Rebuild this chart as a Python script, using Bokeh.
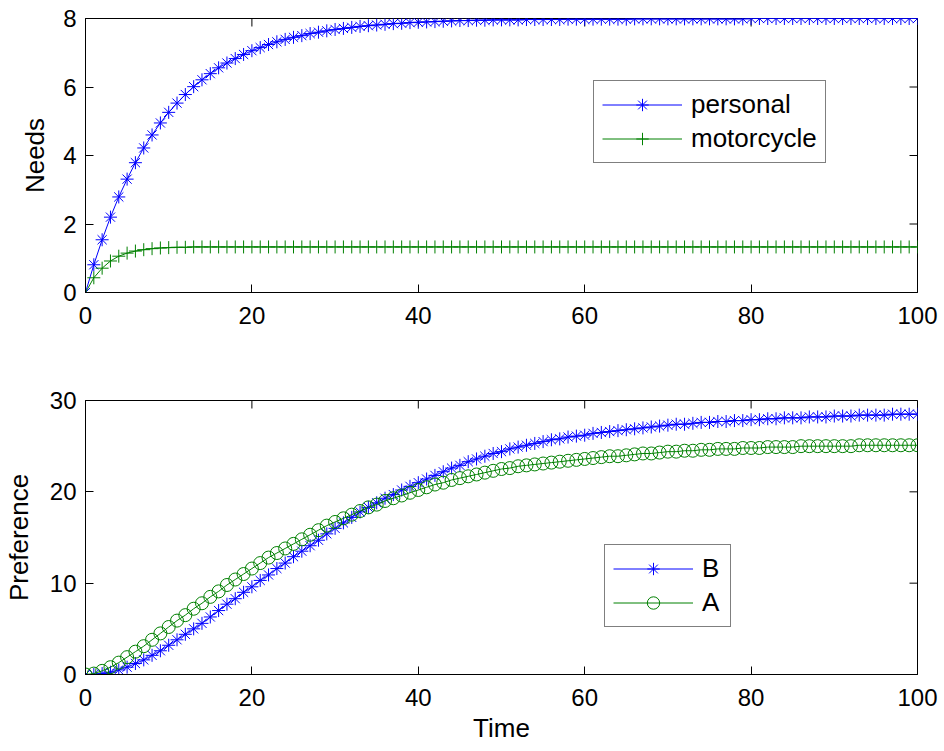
import math
from bokeh.plotting import figure
from bokeh.models import Range1d, FixedTicker, Legend, LegendItem
from bokeh.layouts import column
from bokeh.embed import file_html
from bokeh.resources import INLINE

time = list(range(0, 101))

personal = [0.00, 0.81, 1.54, 2.20, 2.79, 3.31, 3.79, 4.22, 4.60, 4.95,
            5.26, 5.53, 5.78, 6.01, 6.21, 6.39, 6.56, 6.70, 6.83, 6.95,
            7.06, 7.15, 7.24, 7.32, 7.39, 7.45, 7.50, 7.56, 7.60, 7.64,
            7.68, 7.71, 7.74, 7.77, 7.79, 7.81, 7.83, 7.85, 7.86, 7.88,
            7.89, 7.90, 7.91, 7.92, 7.93, 7.94, 7.94, 7.95, 7.95, 7.96,
            7.96, 7.96, 7.96, 7.97, 7.97, 7.97, 7.97, 7.97, 7.98, 7.98,
            7.98, 7.98, 7.98, 7.98, 7.98, 7.98, 7.99, 7.99, 7.99, 7.99,
            7.99, 7.99, 7.99, 7.99, 7.99, 7.99, 7.99, 7.99, 7.99, 7.99,
            8.00, 8.00, 8.00, 8.00, 8.00, 8.00, 8.00, 8.00, 8.00, 8.00,
            8.00, 8.00, 8.00, 8.00, 8.00, 8.00, 8.00, 8.00, 8.00, 8.00,
            8.00]

motorcycle = [0.00, 0.43, 0.71, 0.92, 1.06, 1.15, 1.21, 1.25, 1.28, 1.30,
              1.31, 1.32, 1.32, 1.33, 1.33, 1.33, 1.33, 1.33, 1.33, 1.33,
              1.33, 1.33, 1.33, 1.33, 1.33, 1.33, 1.33, 1.33, 1.33, 1.33,
              1.33, 1.33, 1.33, 1.33, 1.33, 1.33, 1.33, 1.33, 1.33, 1.33,
              1.33, 1.33, 1.33, 1.33, 1.33, 1.33, 1.33, 1.33, 1.33, 1.33,
              1.33, 1.33, 1.33, 1.33, 1.33, 1.33, 1.33, 1.33, 1.33, 1.33,
              1.33, 1.33, 1.33, 1.33, 1.33, 1.33, 1.33, 1.33, 1.33, 1.33,
              1.33, 1.33, 1.33, 1.33, 1.33, 1.33, 1.33, 1.33, 1.33, 1.33,
              1.33, 1.33, 1.33, 1.33, 1.33, 1.33, 1.33, 1.33, 1.33, 1.33,
              1.33, 1.33, 1.33, 1.33, 1.33, 1.33, 1.33, 1.33, 1.33, 1.33,
              1.33]

pref_b = [0.0, 0.0, 0.1, 0.25, 0.5, 0.8, 1.2, 1.6, 2.1, 2.6,
          3.2, 3.8, 4.4, 5.0, 5.6, 6.3, 7.0, 7.7, 8.3, 9.0,
          9.6, 10.3, 10.9, 11.6, 12.2, 12.9, 13.5, 14.1, 14.7, 15.4,
          16.0, 16.6, 17.2, 17.8, 18.3, 18.8, 19.3, 19.7, 20.2, 20.6,
          21.0, 21.4, 21.8, 22.2, 22.6, 22.9, 23.3, 23.6, 23.9, 24.2,
          24.4, 24.7, 24.9, 25.1, 25.3, 25.5, 25.7, 25.8, 26.0, 26.1,
          26.2, 26.4, 26.5, 26.6, 26.7, 26.8, 26.9, 27.0, 27.1, 27.2,
          27.3, 27.4, 27.4, 27.5, 27.6, 27.6, 27.7, 27.7, 27.8, 27.8,
          27.9, 27.9, 28.0, 28.0, 28.1, 28.1, 28.1, 28.2, 28.2, 28.2,
          28.3, 28.3, 28.3, 28.4, 28.4, 28.4, 28.4, 28.5, 28.5, 28.5,
          28.5]

pref_a = [0.0, 0.1, 0.4, 0.8, 1.3, 1.9, 2.5, 3.1, 3.8, 4.5,
          5.2, 5.9, 6.5, 7.2, 7.8, 8.5, 9.1, 9.8, 10.4, 11.0,
          11.6, 12.2, 12.8, 13.3, 13.8, 14.3, 14.8, 15.3, 15.8, 16.3,
          16.7, 17.1, 17.5, 17.9, 18.3, 18.6, 19.0, 19.3, 19.6, 19.9,
          20.2, 20.5, 20.8, 21.0, 21.3, 21.5, 21.7, 21.9, 22.1, 22.3,
          22.5, 22.6, 22.8, 22.9, 23.0, 23.1, 23.2, 23.3, 23.4, 23.5,
          23.6, 23.7, 23.8, 23.9, 23.9, 24.0, 24.1, 24.2, 24.2, 24.3,
          24.4, 24.4, 24.5, 24.5, 24.6, 24.6, 24.7, 24.7, 24.7, 24.8,
          24.8, 24.8, 24.9, 24.9, 24.9, 24.9, 25.0, 25.0, 25.0, 25.0,
          25.0, 25.0, 25.0, 25.1, 25.1, 25.1, 25.1, 25.1, 25.1, 25.1,
          25.1]

x_ticks = [0, 20, 40, 60, 80, 100]
needs_ticks = [0, 2, 4, 6, 8]
pref_ticks = [0, 10, 20, 30]

BLUE = "#0000FF"
GREEN = "#008000"
FONT = "Liberation Sans"
XMAX = 100


def style_axis(ax, ticks):
    ax.ticker = FixedTicker(ticks=ticks)
    ax.major_tick_in = 8
    ax.major_tick_out = 0
    ax.minor_tick_in = 0
    ax.minor_tick_out = 0
    ax.axis_line_color = "black"
    ax.major_tick_line_color = "black"
    ax.major_label_text_font = FONT
    ax.major_label_text_font_size = "24px"
    ax.major_label_text_color = "black"
    ax.axis_label_text_font = FONT
    ax.axis_label_text_font_size = "26px"
    ax.axis_label_text_font_style = "normal"
    ax.axis_label_text_color = "black"


def make_fig(ymax, yticks, ylabel, top_border, bottom_border, xlabel=None, ystandoff=14):
    p = figure(frame_width=832, frame_height=274,
               x_range=Range1d(0, XMAX), y_range=Range1d(0, ymax),
               output_backend="svg", toolbar_location=None,
               min_border_left=85, min_border_right=22,
               min_border_top=top_border, min_border_bottom=bottom_border,
               background_fill_color="white", border_fill_color="white",
               outline_line_color="black", outline_line_width=1)
    p.xgrid.visible = False
    p.ygrid.visible = False
    style_axis(p.xaxis[0], x_ticks)
    style_axis(p.yaxis[0], yticks)
    p.xaxis[0].major_label_standoff = 14
    p.yaxis[0].major_label_standoff = 9
    p.yaxis[0].axis_label = ylabel
    p.yaxis[0].axis_label_standoff = ystandoff
    if xlabel:
        p.xaxis[0].axis_label = xlabel
        p.xaxis[0].axis_label_standoff = 4
    # inward ticks on the top and right edges of the box (half of each dash is clipped by the frame)
    p.scatter(x_ticks, [ymax] * len(x_ticks), marker="dash", size=16,
              angle=math.pi / 2, line_color="black", line_width=1)
    p.scatter([XMAX] * len(yticks), yticks, marker="dash", size=16,
              line_color="black", line_width=1)
    return p


def make_legend(items, loc):
    lg = Legend(items=items, location=loc)
    lg.border_line_color = "black"
    lg.border_line_width = 1
    lg.background_fill_color = "white"
    lg.background_fill_alpha = 1
    lg.label_text_font = FONT
    lg.label_text_font_size = "26px"
    lg.label_text_color = "black"
    lg.glyph_width = 80
    lg.glyph_height = 31
    lg.spacing = 3
    lg.padding = 8
    lg.margin = 0
    lg.label_standoff = 9
    return lg


# ---- top: Needs ----
p1 = make_fig(8, needs_ticks, "Needs", 18, 96, ystandoff=10)
l1 = p1.line(time, personal, line_color=BLUE, line_width=1)
s1 = p1.scatter(time, personal, marker="asterisk", size=13, line_color=BLUE, line_width=1)
l2 = p1.line(time, motorcycle, line_color=GREEN, line_width=1)
s2 = p1.scatter(time, motorcycle, marker="cross", size=13, line_color=GREEN, line_width=1)
p1.add_layout(make_legend([
    LegendItem(label="personal", renderers=[l1, s1]),
    LegendItem(label="motorcycle", renderers=[l2, s2]),
], (508, 129)))

# ---- bottom: Preference ----
p2 = make_fig(30, pref_ticks, "Preference", 12, 72, xlabel="Time", ystandoff=13)
l3 = p2.line(time, pref_b, line_color=BLUE, line_width=1)
s3 = p2.scatter(time, pref_b, marker="asterisk", size=13, line_color=BLUE, line_width=1)
l4 = p2.line(time, pref_a, line_color=GREEN, line_width=1)
s4 = p2.scatter(time, pref_a, marker="circle", size=13, line_color=GREEN,
                fill_color=None, line_width=1)
p2.add_layout(make_legend([
    LegendItem(label="B", renderers=[l3, s3]),
    LegendItem(label="A", renderers=[l4, s4]),
], (519, 47)))

layout = column(p1, p2, spacing=0)
open("out.html", "w").write(file_html(layout, INLINE))
